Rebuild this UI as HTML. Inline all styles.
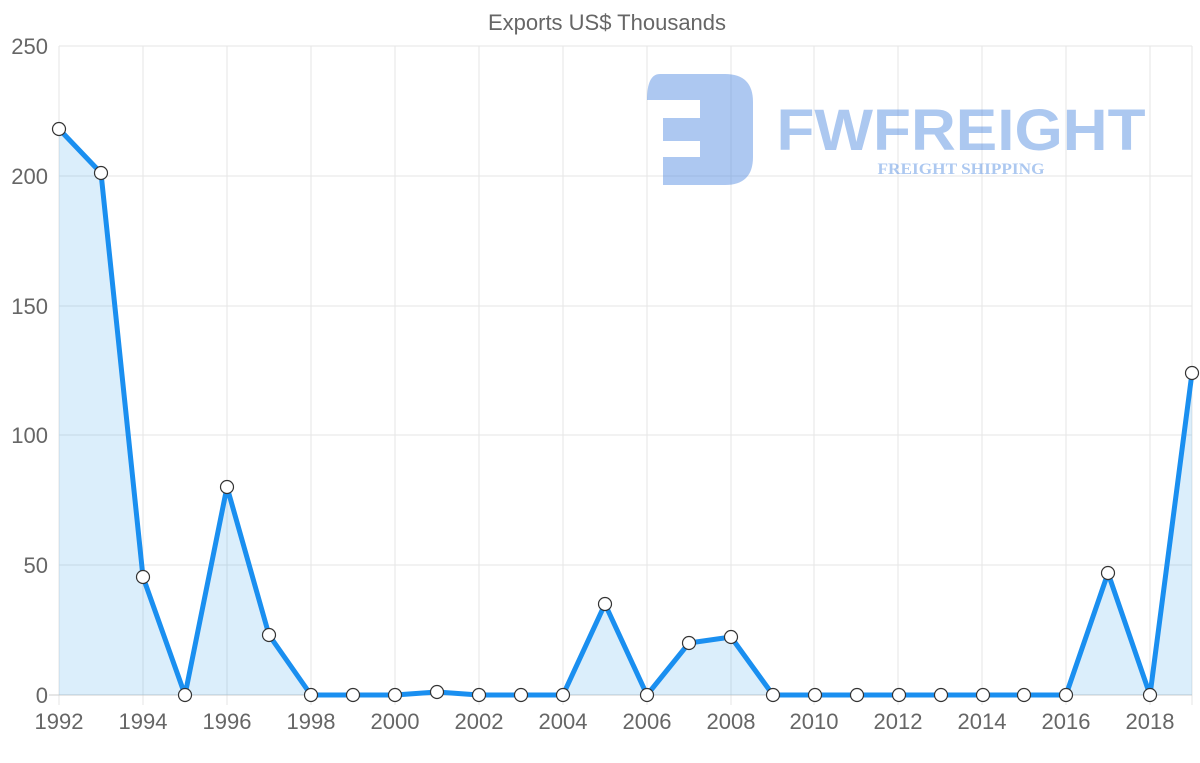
<!DOCTYPE html>
<html><head><style>body{margin:0;background:#fff}svg{display:block}</style></head>
<body>
<svg width="1200" height="763" viewBox="0 0 1200 763" font-family="Liberation Sans, sans-serif">
<text x="607" y="30" text-anchor="middle" font-size="22" fill="#666">Exports US$ Thousands</text>
<g stroke="#e5e5e5" stroke-width="1">
<line x1="59" y1="46" x2="1192" y2="46"/><line x1="59" y1="176" x2="1192" y2="176"/>
<line x1="59" y1="306" x2="1192" y2="306"/><line x1="59" y1="435" x2="1192" y2="435"/>
<line x1="59" y1="565" x2="1192" y2="565"/>
<line x1="59" y1="46" x2="59" y2="705"/><line x1="143" y1="46" x2="143" y2="705"/><line x1="227" y1="46" x2="227" y2="705"/><line x1="311" y1="46" x2="311" y2="705"/><line x1="395" y1="46" x2="395" y2="705"/><line x1="479" y1="46" x2="479" y2="705"/><line x1="563" y1="46" x2="563" y2="705"/><line x1="647" y1="46" x2="647" y2="705"/><line x1="731" y1="46" x2="731" y2="705"/><line x1="814" y1="46" x2="814" y2="705"/><line x1="898" y1="46" x2="898" y2="705"/><line x1="982" y1="46" x2="982" y2="705"/><line x1="1066" y1="46" x2="1066" y2="705"/><line x1="1150" y1="46" x2="1150" y2="705"/><line x1="1192" y1="46" x2="1192" y2="705"/>
</g>
<line x1="49" y1="695" x2="1192" y2="695" stroke="#ccc"/>
<g fill="#666" font-size="22" text-anchor="end">
<text x="48" y="54">250</text><text x="48" y="184">200</text><text x="48" y="314">150</text><text x="48" y="443">100</text><text x="48" y="573">50</text><text x="48" y="703">0</text>
</g>
<g fill="#666" font-size="22" text-anchor="middle">
<text x="59" y="729">1992</text><text x="143" y="729">1994</text><text x="227" y="729">1996</text><text x="311" y="729">1998</text><text x="395" y="729">2000</text><text x="479" y="729">2002</text><text x="563" y="729">2004</text><text x="647" y="729">2006</text><text x="731" y="729">2008</text><text x="814" y="729">2010</text><text x="898" y="729">2012</text><text x="982" y="729">2014</text><text x="1066" y="729">2016</text><text x="1150" y="729">2018</text>
</g>
<g opacity="0.45" fill="#4a86e0">
<path d="M660 74 H725 Q753 74 753 102 V157 Q753 185 725 185 H663 V157 H700 V141 H663 V118 H700 V100 H647 Q647 74 660 74 Z"/>
<text x="961" y="150" text-anchor="middle" font-size="58" font-weight="bold" textLength="369" lengthAdjust="spacingAndGlyphs">FWFREIGHT</text>
<text x="961" y="174" text-anchor="middle" font-size="16" font-weight="bold" font-family="Liberation Serif, serif" textLength="167" lengthAdjust="spacingAndGlyphs">FREIGHT SHIPPING</text>
</g>
<path fill="rgba(54,162,235,0.18)" d="M59 129 L101 173 L143 577 L185 695 L227 487 L269 635 L311 695 L353 695 L395 695 L437 692 L479 695 L521 695 L563 695 L605 604 L647 695 L689 643 L731 637 L773 695 L815 695 L857 695 L899 695 L941 695 L983 695 L1024 695 L1066 695 L1108 573 L1150 695 L1192 373 L1192 695 L59 695 Z"/>
<polyline fill="none" stroke="#1a8ff0" stroke-width="5" stroke-linejoin="round" points="59,129 101,173 143,577 185,695 227,487 269,635 311,695 353,695 395,695 437,692 479,695 521,695 563,695 605,604 647,695 689,643 731,637 773,695 815,695 857,695 899,695 941,695 983,695 1024,695 1066,695 1108,573 1150,695 1192,373"/>
<g fill="#fff" stroke="#333" stroke-width="1.2">
<circle cx="59" cy="129" r="6.5"/><circle cx="101" cy="173" r="6.5"/><circle cx="143" cy="577" r="6.5"/><circle cx="185" cy="695" r="6.5"/><circle cx="227" cy="487" r="6.5"/><circle cx="269" cy="635" r="6.5"/><circle cx="311" cy="695" r="6.5"/><circle cx="353" cy="695" r="6.5"/><circle cx="395" cy="695" r="6.5"/><circle cx="437" cy="692" r="6.5"/><circle cx="479" cy="695" r="6.5"/><circle cx="521" cy="695" r="6.5"/><circle cx="563" cy="695" r="6.5"/><circle cx="605" cy="604" r="6.5"/><circle cx="647" cy="695" r="6.5"/><circle cx="689" cy="643" r="6.5"/><circle cx="731" cy="637" r="6.5"/><circle cx="773" cy="695" r="6.5"/><circle cx="815" cy="695" r="6.5"/><circle cx="857" cy="695" r="6.5"/><circle cx="899" cy="695" r="6.5"/><circle cx="941" cy="695" r="6.5"/><circle cx="983" cy="695" r="6.5"/><circle cx="1024" cy="695" r="6.5"/><circle cx="1066" cy="695" r="6.5"/><circle cx="1108" cy="573" r="6.5"/><circle cx="1150" cy="695" r="6.5"/><circle cx="1192" cy="373" r="6.5"/>
</g>
</svg>
</body></html>
